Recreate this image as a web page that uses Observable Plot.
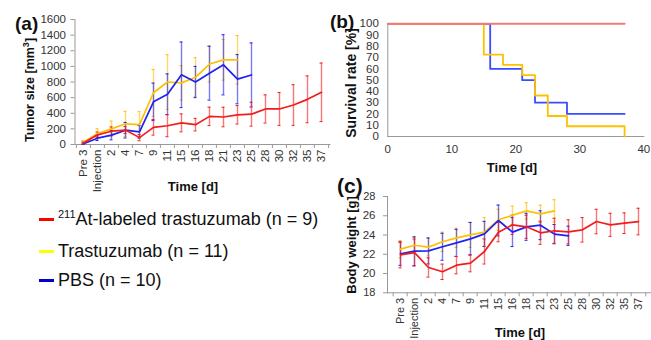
<!DOCTYPE html>
<html>
<head>
<meta charset="utf-8">
<script src="https://cdn.jsdelivr.net/npm/d3@7"></script>
<script src="https://cdn.jsdelivr.net/npm/@observablehq/plot@0.6"></script>
<style>
  body { margin: 0; background: #fff; }
  #root { position: relative; width: 651px; height: 340px; overflow: hidden; background: #fff;
          font-family: "Liberation Sans", Arial, sans-serif; color: #111; }
  #root svg text { font-size: 11.5px; }
  .abs { position: absolute; }
  .ttl { position: absolute; font-weight: bold; white-space: nowrap; color: #111; }
  .rot { transform: translate(-50%, -50%) rotate(-90deg); }
  .ctr { transform: translate(-50%, -50%); }
  .panel { position: absolute; font-weight: bold; white-space: nowrap; color: #111; line-height: 1; }
  .leg { position: absolute; left: 39px; font-size: 18px; white-space: nowrap; display: flex; align-items: center; }
  .leg span.sw { display: inline-block; width: 15px; height: 3px; margin-right: 4px; }
  sup { font-size: 11px; vertical-align: 7px; line-height: 0; }
</style>
</head>
<body>
<div id="root"></div>
<script>
// ---------- data ----------
const cats = ["Pre 3","Injection","2","4","7","9","11","15","16","18","21","23","25","28","30","32","35","37"];

// (a) tumour size [mm3]
const tumorAt    = [20,124,170,185,88,220,240,277,254,360,352,380,388,455,455,505,578,668];
const tumorAtErr = [15,35,55,45,40,100,140,115,80,118,125,118,153,180,210,260,300,375];
const tumorTr    = [30,141,200,265,255,662,800,789,860,1030,1084,1084];
const tumorTrErr = [20,60,100,160,165,300,350,220,250,230,260,310];
const tumorPbs    = [10,81,120,183,162,546,644,892,800,913,1020,836,890];
const tumorPbsErr = [10,30,60,100,80,240,260,420,200,345,385,315,410];

// (b) survival [%]
const survAtT = [0,37],   survAtV = [100,100];
const survTrT = [0,15,18,21,23,25,28,37], survTrV = [100,72.7,63.6,54.5,36.4,18.2,9.1,0];
const survPbsT = [0,16,21,23,28,37],      survPbsV = [100,60,50,30,20,20];

// (c) body weight [g]
const bwAt    = [21.94,22.18,20.63,20.18,20.87,21.08,22.29,24.3,25.06,24.85,24.23,24.44,24.33,24.54,25.4,25.06,25.23,25.4];
const bwAtErr = [1.35,1.4,1.0,0.8,0.9,0.9,1.3,1.0,1.0,1.2,1.2,1.3,1.25,1.27,1.27,1.2,1.07,1.38];
const bwTr    = [22.53,22.94,22.74,23.3,23.71,24.02,24.3,25.58,26.05,26.51,26.2,26.51];
const bwTrErr = [0.9,0.8,0.9,1.0,1.0,1.3,1.5,1.1,0.95,0.85,0.9,1.15];
const bwPbs    = [22.05,22.32,22.35,22.78,23.19,23.6,24.12,25.51,24.3,24.85,25.02,24.09,23.92];
const bwPbsErr = [1.2,1.5,1.35,1.4,1.4,1.7,1.3,1.6,1.5,1.4,1.5,1.0,1.0];

const seriesNames = ["At-labeled trastuzumab (n = 9)", "Trastuzumab (n = 11)", "PBS (n = 10)"];

// ---------- helpers ----------
const RED = "#f21c1c", ORANGE = "#ffc000", BLUE = "#1f22f0";
const FONT = "'Liberation Sans', Arial, sans-serif";
const rows = (vals, errs) => vals.map((v, i) => ({t: cats[i], v, e: errs[i]}));
const steps = (T, V) => T.map((t, i) => ({t, v: V[i]}));

function errMarks(d, color) {
  return [
    Plot.ruleX(d, {x: "t", y1: r => r.v - r.e, y2: r => r.v + r.e, stroke: color, strokeOpacity: 0.6, strokeWidth: 1.4}),
    Plot.ruleY(d, {x1: "t", x2: "t", y: r => r.v + r.e, insetLeft: -1.5, insetRight: -1.5, stroke: color, strokeWidth: 1}),
    Plot.ruleY(d, {x1: "t", x2: "t", y: r => r.v - r.e, insetLeft: -1.5, insetRight: -1.5, stroke: color, strokeWidth: 1})
  ];
}

function catPanel({width, height, ml, mr, mt, mb, ydom, yticks, ytp, xtp, xfs, series}) {
  const step = (width - ml - mr) / cats.length;
  const marks = [
    Plot.frame({anchor: "left", stroke: "#999"}),
    Plot.frame({anchor: "bottom", stroke: "#999"}),
    Plot.axisY({ticks: yticks, tickFormat: d3.format("d"), tickSize: 4, tickPadding: ytp, label: null, stroke: "#999", fill: "#333"}),
    Plot.axisX({tickSize: 0, tickRotate: -90, tickPadding: xtp, label: null, fill: "#333"}),
    Plot.axisX({tickSize: 4, tickFormat: () => "", dx: -step / 2, label: null, stroke: "#999"}),
    Plot.axisX({ticks: [cats[cats.length - 1]], tickSize: 4, tickFormat: () => "", dx: step / 2, label: null, stroke: "#999"})
  ];
  for (const [d, color] of series) {
    marks.push(...errMarks(d, color));
  }
  for (const [d, color] of series) {
    marks.push(Plot.line(d, {x: "t", y: "v", stroke: color, strokeWidth: 1.7}));
  }
  const svg = Plot.plot({
    width, height, marginLeft: ml, marginRight: mr, marginTop: mt, marginBottom: mb,
    style: {fontFamily: FONT, fontSize: "11.5px", background: "transparent", overflow: "visible"},
    x: {type: "point", domain: cats, padding: 0.5, axis: null},
    y: {domain: ydom, axis: null},
    marks
  });
  if (xfs) {
    svg.querySelectorAll("text").forEach(t => { if (cats.includes(t.textContent)) t.style.fontSize = xfs + "px"; });
  }
  return svg;
}

const root = document.getElementById("root");
function place(el, left, top) {
  const w = document.createElement("div");
  w.className = "abs"; w.style.left = left + "px"; w.style.top = top + "px";
  w.appendChild(el); root.appendChild(w);
}
function addText(cls, html, left, top, size) {
  const el = document.createElement("div");
  el.className = cls; el.innerHTML = html;
  el.style.left = left + "px"; el.style.top = top + "px"; el.style.fontSize = size + "px";
  root.appendChild(el);
}

// ---------- (a) ----------
const a = catPanel({
  width: 335, height: 200, ml: 74.5, mr: 5.5, mt: 19, mb: 56,
  ydom: [0, 1600], yticks: d3.range(0, 1601, 200), ytp: 5, xtp: 5,
  series: [[rows(tumorTr, tumorTrErr), ORANGE], [rows(tumorPbs, tumorPbsErr), BLUE], [rows(tumorAt, tumorAtErr), RED]]
});
place(a, 0, 0);

// ---------- (b) ----------
const b = Plot.plot({
  width: 321, height: 170, marginLeft: 57.3, marginRight: 7.7, marginTop: 23.3, marginBottom: 34,
  style: {fontFamily: FONT, fontSize: "11.5px", background: "transparent", overflow: "visible"},
  x: {domain: [0, 40], axis: null},
  y: {domain: [0, 100], axis: null},
  marks: [
    Plot.frame({anchor: "left", stroke: "#999"}),
    Plot.frame({anchor: "bottom", stroke: "#999"}),
    Plot.axisY({ticks: d3.range(0, 101, 10), tickSize: 0, tickPadding: 9, label: null, fill: "#333"}),
    Plot.axisX({ticks: d3.range(0, 41, 10), tickSize: 0, tickPadding: 8, label: null, fill: "#333"}),
    Plot.line(steps(survPbsT, survPbsV), {x: "t", y: "v", curve: "step-after", stroke: "#3a4cff", strokeWidth: 1.8}),
    Plot.line(steps(survTrT, survTrV), {x: "t", y: "v", curve: "step-after", stroke: ORANGE, strokeWidth: 1.8}),
    Plot.line(steps(survAtT, survAtV), {x: "t", y: "v", curve: "step-after", stroke: "#f07a7a", strokeWidth: 2})
  ]
});
place(b, 330, 0);

// ---------- (c) ----------
const c = catPanel({
  width: 321, height: 170, ml: 57, mr: 0.5, mt: 26, mb: 47.7,
  ydom: [18, 28], yticks: d3.range(18, 29, 2), ytp: 8, xtp: 5, xfs: 11,
  series: [[rows(bwTr, bwTrErr), ORANGE], [rows(bwPbs, bwPbsErr), BLUE], [rows(bwAt, bwAtErr), RED]]
});
place(c, 330, 170);

// ---------- titles ----------
addText("ttl rot", "Tumor size [mm<sup style='font-size:9px;vertical-align:5px'>3</sup>]", 30, 90, 12.5);
addText("ttl ctr", "Time [d]", 193, 186, 13);
addText("ttl rot", "Survival rate [%]", 351, 82.5, 14);
addText("ttl ctr", "Time [d]", 512, 167, 13);
addText("ttl rot", "Body weight [g]", 351, 245, 13);
addText("ttl ctr", "Time [d]", 520, 332, 13);
addText("panel", "(a)", 15, 14, 19);
addText("panel", "(b)", 330, 12, 19);
addText("panel", "(c)", 337, 175, 21);

// ---------- legend ----------
const legColors = ["#ff0000", "#ffff00", "#0000c8"];
const legTops = [219, 251.5, 280];
seriesNames.forEach((name, i) => {
  const el = document.createElement("div");
  el.className = "leg";
  el.style.top = (legTops[i] - 11) + "px";
  el.style.height = "22px";
  const label = i === 0 ? "<sup>211</sup>" + name : name;
  el.innerHTML = `<span class="sw" style="background:${legColors[i]}"></span><span>${label}</span>`;
  root.appendChild(el);
});
</script>
</body>
</html>
